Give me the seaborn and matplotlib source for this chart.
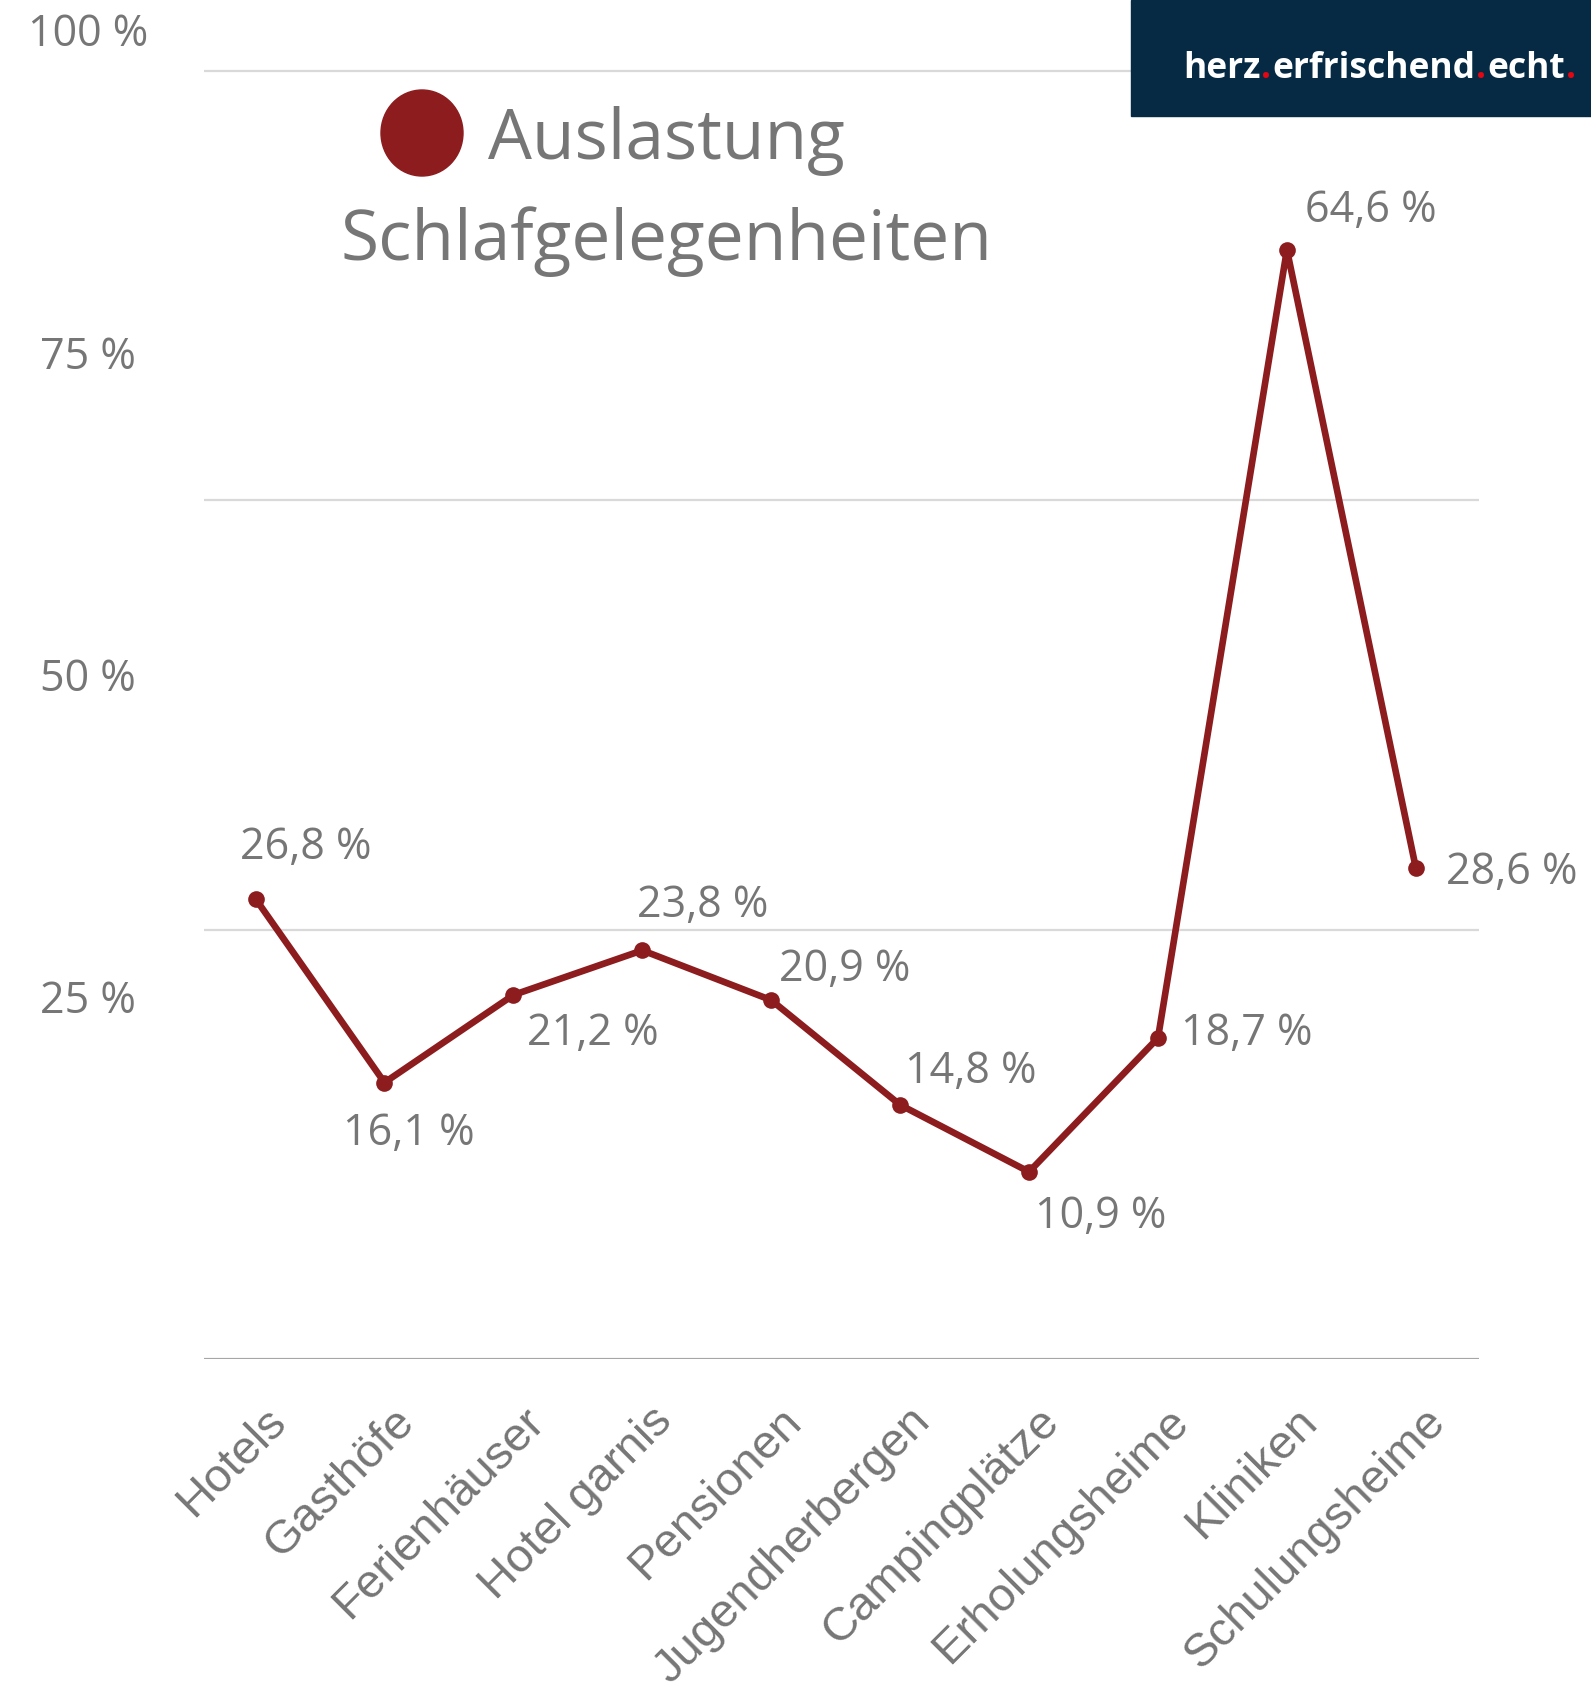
import numpy as np
import pandas as pd
import seaborn as sns
import matplotlib
matplotlib.use("Agg")
import matplotlib.pyplot as plt
from matplotlib.patches import Ellipse, Rectangle
from matplotlib.transforms import ScaledTranslation

# ---------------- data ----------------
categories = ["Hotels", "Gasthöfe", "Ferienhäuser", "Hotel garnis", "Pensionen",
              "Jugendherbergen", "Campingplätze", "Erholungsheime", "Kliniken", "Schulungsheime"]
values = [26.8, 16.1, 21.2, 23.8, 20.9, 14.8, 10.9, 18.7, 64.6, 28.6]
value_labels = ["26,8 %", "16,1 %", "21,2 %", "23,8 %", "20,9 %",
                "14,8 %", "10,9 %", "18,7 %", "64,6 %", "28,6 %"]
grid_values = [0, 25, 50, 75]
ytick_values = [25, 50, 75, 100]
ytick_labels = ["25 %", "50 %", "75 %", "100 %"]
legend_lines = ["Auslastung", "Schlafgelegenheiten"]
logo_parts = ["herz", ".", "erfrischend", ".", "echt", "."]

# label offsets in pixels (dx right, dy up)
label_offsets = [(50, 51), (24, -51), (79, -39), (60, 45), (73, 30),
                 (71, 33), (72, -45), (89, 4), (84, 39), (96, -5)]

RED = "#8c1c1e"
GRAY = "#767676"
NAVY = "#062a44"

sns.set_theme(style="white")
plt.rcParams["font.family"] = ["Open Sans", "DejaVu Sans"]

W, H = 1591, 1685
fig = plt.figure(figsize=(W / 100, H / 100), dpi=100)

base_px = 1359
ax = fig.add_axes([204 / W, (H - base_px) / H, (1479 - 204) / W, base_px / H])
ax.patch.set_alpha(0)

df = pd.DataFrame({"Kategorie": categories, "Auslastung": values})
sns.lineplot(data=df, x="Kategorie", y="Auslastung", sort=False, color=RED,
             linewidth=4.8, marker="o", markersize=12, markeredgewidth=0, ax=ax)

ax.set_xlim(-0.40, 9.49)
ax.set_ylim(0, base_px / 17.17)
ax.set_yticks(grid_values)
ax.yaxis.set_ticklabels([])
ax.grid(axis="y", color="#d9d9d9", linewidth=1.6)
ax.grid(axis="x", visible=False)
ax.axhline(0, color="#a6a6a6", linewidth=2.2)
for s in ax.spines.values():
    s.set_visible(False)
ax.set_xlabel("")
ax.set_ylabel("")

ax.set_xticks(range(len(categories)))
ax.set_xticklabels(categories, rotation=45, ha="right", rotation_mode="anchor",
                   fontsize=34, color=GRAY, family=["Liberation Sans", "DejaVu Sans"])
ax.tick_params(axis="x", length=0, pad=29)
ax.tick_params(axis="y", length=0)
shift = ScaledTranslation(0.08, 0, fig.dpi_scale_trans)
for lbl in ax.get_xticklabels():
    lbl.set_transform(lbl.get_transform() + shift)

# data labels
for i, (v, lab, (dx, dy)) in enumerate(zip(values, value_labels, label_offsets)):
    ax.annotate(lab, (i, v), xytext=(dx, dy), textcoords="offset pixels",
                ha="center", va="center", fontsize=31, color=GRAY)

# secondary (displaced) percentage axis labels as in the original graphic
ax2 = ax.twinx()
ax2.yaxis.tick_left()
ax2.set_ylim(-3.1, 102.3)
ax2.set_yticks(ytick_values)
ax2.set_yticklabels(ytick_labels)
ax2.tick_params(axis="y", length=0, pad=83.5, labelsize=31, labelcolor=GRAY)
for t in ax2.get_yticklabels():
    t.set_ha("center")
ax2.grid(False)
ax2.patch.set_alpha(0)
for s in ax2.spines.values():
    s.set_visible(False)

# legend-like title
fig.add_artist(Ellipse((422 / W, 1 - 133 / H), 82 / W, 86 / H,
                       transform=fig.transFigure, color=RED))
fig.text(666 / W, 1 - 159 / H, legend_lines[0], ha="center", va="baseline",
         fontsize=50, color=GRAY)
fig.text(666 / W, 1 - 260 / H, legend_lines[1], ha="center", va="baseline",
         fontsize=50, color=GRAY)

# logo box (on top of the axes)
fig.add_artist(Rectangle((1131 / W, 1 - 116 / H), (W - 1131) / W, 116 / H,
                         transform=fig.transFigure, color=NAVY, zorder=3))

# logo text
renderer = fig.canvas.get_renderer()
fs = 25.5
x = 1183
for part in logo_parts:
    col = "#e30613" if part == "." else "white"
    t = fig.text(x / W, 1 - 78 / H, part, color=col, fontsize=fs, fontweight="bold",
                 ha="left", va="baseline", zorder=5)
    bb = t.get_window_extent(renderer)
    x += bb.width + 1

fig.savefig("out.png", dpi=100)
